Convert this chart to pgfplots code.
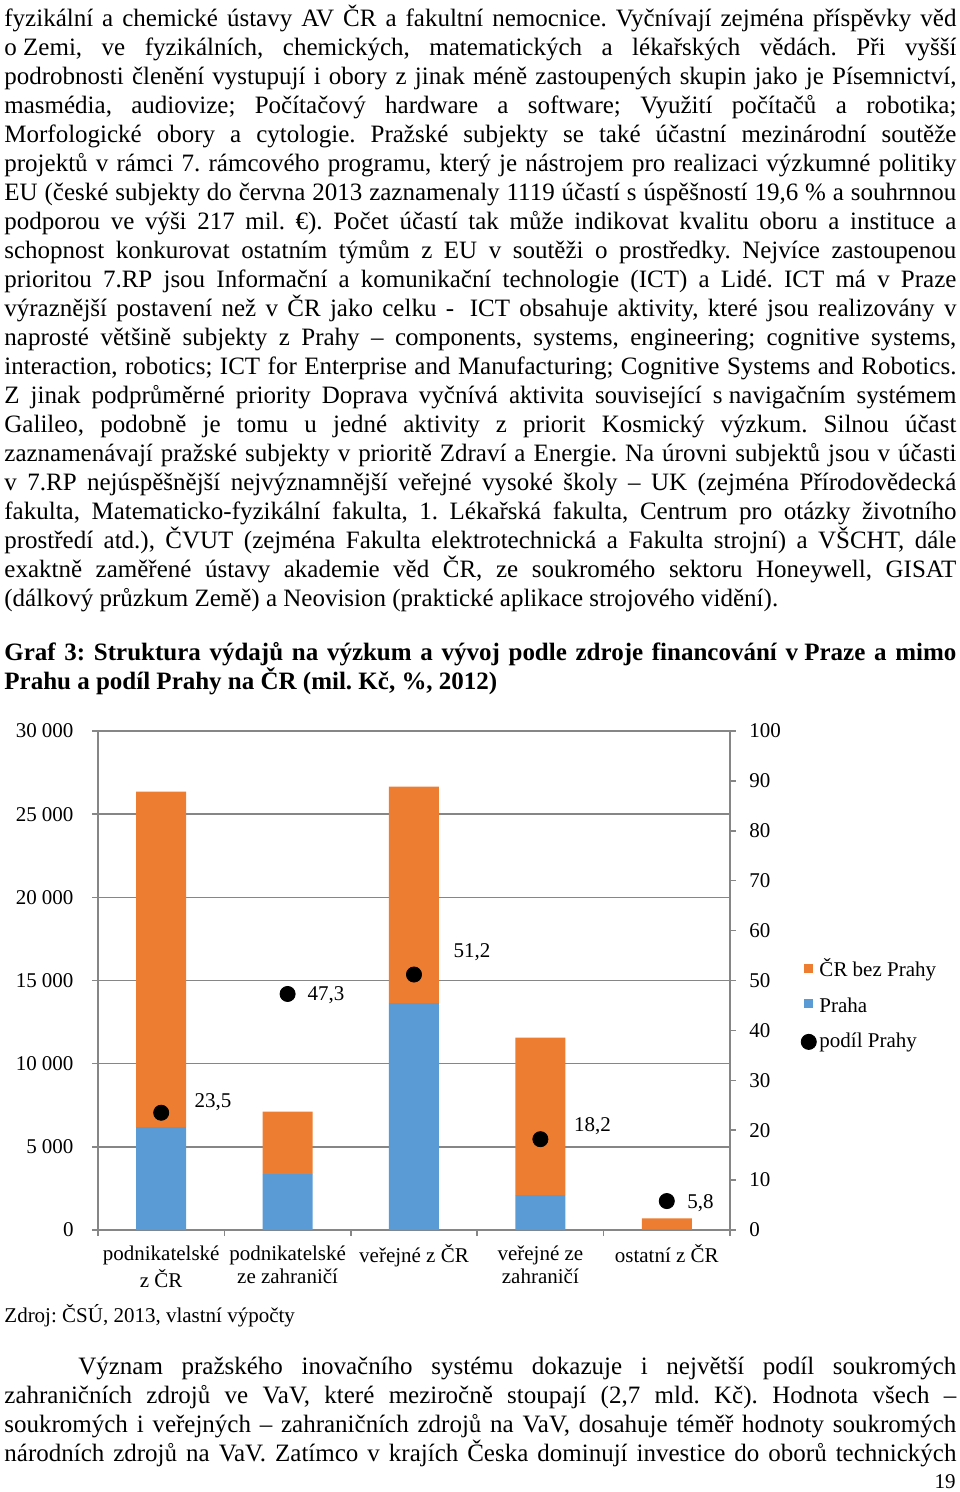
\documentclass[border=0pt]{standalone}
\usepackage{fontspec}
\setmainfont{Liberation Serif}
\usepackage{pgfplots}
\pgfplotsset{compat=1.18}
\usepackage{pgfplotstable}
\definecolor{orangeC}{RGB}{237,125,49}
\definecolor{blueC}{RGB}{91,155,213}
\definecolor{gridC}{RGB}{134,134,134}
\pgfplotstableread{
x praha bez podil
0 6190 20160 23.5
1 3360 3750 47.3
2 13640 13010 51.2
3 2100 9460 18.2
4 41 660 5.8
}\datatable
\newcommand{\mfont}{\fontsize{11.9}{13.8}\selectfont}
\newcommand{\sfont}{\fontsize{10}{11.2}\selectfont}
\newcommand{\xfont}{\fontsize{10}{10.9}\selectfont}
\newcommand{\TW}{453.33pt}
\newcommand{\Ln}[2]{\node[anchor=base west,inner sep=0pt,font=\mfont] at (4,#1) {\hbox to \TW{#2}};}
\newcommand{\Lz}[2]{\node[anchor=base west,inner sep=0pt,font=\mfont] at (4,#1) {#2};}
\begin{document}
\frenchspacing
\hbadness=10000
\begin{tikzpicture}[x=0.47619pt,y=-0.47619pt]
\path[use as bounding box] (0,0) rectangle (960,1492);
% paragraph 1
\Ln{26}{fyzikální a chemické ústavy AV ČR a fakultní nemocnice. Vyčnívají zejména příspěvky věd}
\Ln{55}{o\hspace{3pt}Zemi, ve fyzikálních, chemických, matematických a lékařských vědách. Při vyšší}
\Ln{84}{podrobnosti členění vystupují i obory z jinak méně zastoupených skupin jako je Písemnictví,}
\Ln{113}{masmédia, audiovize; Počítačový hardware a software; Využití počítačů a robotika;}
\Ln{142}{Morfologické obory a cytologie. Pražské subjekty se také účastní mezinárodní soutěže}
\Ln{171}{projektů v rámci 7. rámcového programu, který je nástrojem pro realizaci výzkumné politiky}
\Ln{200}{EU (české subjekty do června 2013 zaznamenaly 1119 účastí s úspěšností 19,6 \% a souhrnnou}
\Ln{229}{podporou ve výši 217 mil. €). Počet účastí tak může indikovat kvalitu oboru a instituce a}
\Ln{258}{schopnost konkurovat ostatním týmům z EU v soutěži o prostředky. Nejvíce zastoupenou}
\Ln{287}{prioritou 7.RP jsou Informační a komunikační technologie (ICT) a Lidé. ICT má v Praze}
\Ln{316}{výraznější postavení než v ČR jako celku -\hspace{3pt} ICT obsahuje aktivity, které jsou realizovány v}
\Ln{345}{naprosté většině subjekty z Prahy – components, systems, engineering; cognitive systems,}
\Ln{374}{interaction, robotics; ICT for Enterprise and Manufacturing; Cognitive Systems and Robotics.}
\Ln{403}{Z jinak podprůměrné priority Doprava vyčnívá aktivita související s\hspace{3pt}navigačním systémem}
\Ln{432}{Galileo, podobně je tomu u jedné aktivity z priorit Kosmický výzkum. Silnou účast}
\Ln{461}{zaznamenávají pražské subjekty v prioritě Zdraví a Energie. Na úrovni subjektů jsou v účasti}
\Ln{490}{v 7.RP nejúspěšnější nejvýznamnější veřejné vysoké školy – UK (zejména Přírodovědecká}
\Ln{519}{fakulta, Matematicko-fyzikální fakulta, 1. Lékařská fakulta, Centrum pro otázky životního}
\Ln{548}{prostředí atd.), ČVUT (zejména Fakulta elektrotechnická a Fakulta strojní) a VŠCHT, dále}
\Ln{577}{exaktně zaměřené ústavy akademie věd ČR, ze soukromého sektoru Honeywell, GISAT}
\Lz{606}{(dálkový průzkum Země) a Neovision (praktické aplikace strojového vidění).}
% title
\Ln{660}{\bfseries Graf 3: Struktura výdajů na výzkum a vývoj podle zdroje financování v\hspace{3pt}Praze a mimo}
\Lz{689}{\bfseries Prahu a podíl Prahy na ČR (mil. Kč, \%, 2012)}
% chart
\begin{axis}[
  at={(46.667pt,-585.714pt)}, anchor=south west,
  scale only axis, width=300.95pt, height=237.62pt,
  xmin=-0.5, xmax=4.5, ymin=0, ymax=30000,
  axis x line*=bottom, axis y line*=left,
  axis line style={-, draw=gridC, line width=0.7pt},
  tick style={draw=gridC, line width=0.7pt},
  tick align=outside, major tick length=2.86pt,
  ymajorgrids, major grid style={draw=gridC, line width=0.7pt},
  ybar stacked, bar width=23.81pt,
  scaled y ticks=false,
  xtick={-0.5,0.5,1.5,2.5,3.5,4.5},
  x tick label as interval,
  xticklabels={{\strut podnikatelské\\z ČR},{\strut podnikatelské\\ze zahraničí},{\strut veřejné z ČR},{\strut veřejné ze\\zahraničí},{\strut ostatní z ČR}},
  xticklabel style={align=center, anchor=north, inner sep=0pt, yshift=-3.8pt, font=\xfont},
  ytick={0,5000,10000,15000,20000,25000,30000},
  yticklabels={0,5~000,10~000,15~000,20~000,25~000,30~000},
  yticklabel style={anchor=east, inner sep=0pt, xshift=-8.6pt, font=\sfont},
  clip=false,
]
\addplot[fill=blueC, draw=none] table[x=x,y=praha]{\datatable};
\addplot[fill=orangeC, draw=none] table[x=x,y=bez]{\datatable};
\end{axis}
\begin{axis}[
  at={(46.667pt,-585.714pt)}, anchor=south west,
  scale only axis, width=300.95pt, height=237.62pt,
  xmin=-0.5, xmax=4.5, ymin=0, ymax=100,
  axis y line*=right, axis x line=none,
  axis line style={-, draw=gridC, line width=0.7pt},
  tick style={draw=gridC, line width=0.7pt},
  tick align=outside, major tick length=2.86pt,
  ytick={0,10,20,30,40,50,60,70,80,90,100},
  yticklabels={0,10,20,30,40,50,60,70,80,90,100},
  yticklabel style={anchor=west, inner sep=0pt, xshift=6.2pt, font=\sfont},
  clip=false,
  legend style={at={(1.1127,0.5365)}, anchor=north west, draw=none, fill=none,
    inner sep=0pt, outer sep=0pt, font=\sfont,
    nodes={inner sep=0pt, text height=7pt, text depth=2.5pt},
    row sep=7.4pt, column sep=1.5pt},
  legend cell align=left,
  legend image code/.code={\draw[#1] plot coordinates {(0pt,0pt)};},
]
\addlegendimage{only marks, mark=square*, mark size=1.9pt, color=orangeC, mark options={yshift=2.05pt}}
\addlegendentry{ČR bez Prahy}
\addlegendimage{only marks, mark=square*, mark size=1.9pt, color=blueC, mark options={yshift=2.05pt}}
\addlegendentry{Praha}
\addlegendimage{only marks, mark=*, mark size=3.6pt, color=black, mark options={yshift=0.65pt}}
\addlegendentry{podíl Prahy}
\addplot[forget plot, only marks, mark=*, mark size=3.6pt, color=black] table[x=x,y=podil]{\datatable};
\node[anchor=base, font=\sfont] at (axis cs:0,23.5) [xshift=24.7pt, yshift=2.7pt] {23,5};
\node[anchor=base, font=\sfont] at (axis cs:1,47.3) [xshift=18.3pt, yshift=-3.2pt] {47,3};
\node[anchor=base, font=\sfont] at (axis cs:2,51.2) [xshift=27.6pt, yshift=8.2pt] {51,2};
\node[anchor=base, font=\sfont] at (axis cs:3,18.2) [xshift=24.8pt, yshift=3.6pt] {18,2};
\node[anchor=base, font=\sfont] at (axis cs:4,5.8) [xshift=16.0pt, yshift=-3.4pt] {5,8};
\end{axis}
% source and paragraph 2
\node[anchor=base west,inner sep=0pt,font=\sfont] at (4,1322) {Zdroj: ČSÚ, 2013, vlastní výpočty};
\Ln{1374}{\kern35.2pt Význam pražského inovačního systému dokazuje i největší podíl soukromých}
\Ln{1403}{zahraničních zdrojů ve VaV, které meziročně stoupají (2,7 mld. Kč). Hodnota všech –}
\Ln{1432}{soukromých i veřejných – zahraničních zdrojů na VaV, dosahuje téměř hodnoty soukromých}
\Ln{1461}{národních zdrojů na VaV. Zatímco v krajích Česka dominují investice do oborů technických}
\node[anchor=base east,inner sep=0pt,font=\sfont] at (956,1488) {19};
\end{tikzpicture}
\end{document}
